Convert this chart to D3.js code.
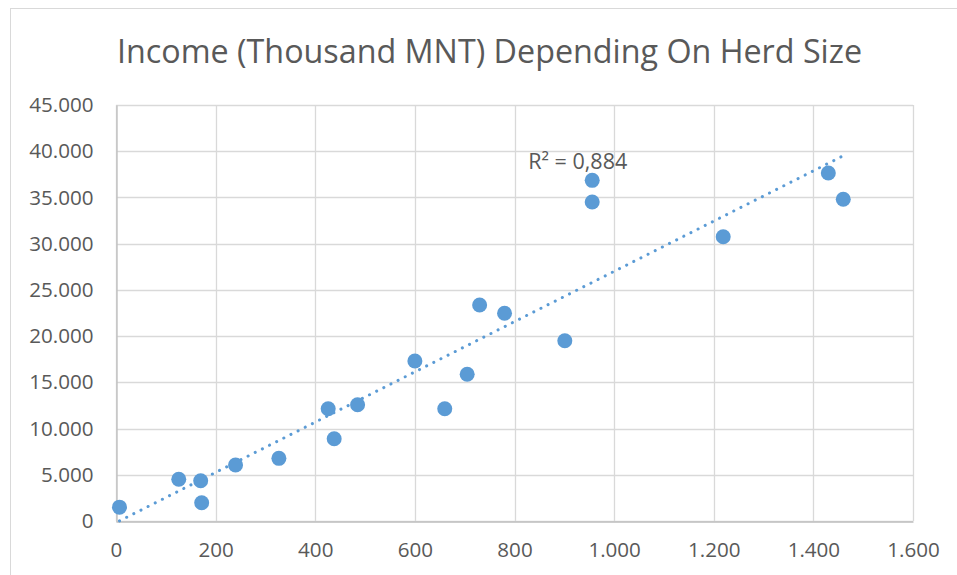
<!DOCTYPE html>
<html>
<head>
<meta charset="utf-8">
<script src="https://cdn.jsdelivr.net/npm/d3@7"></script>
<style>
  html, body { margin: 0; padding: 0; background: #fff; }
  svg { display: block; }
  text { font-family: "Open Sans", "DejaVu Sans", sans-serif; fill: #595959; }
</style>
</head>
<body>
<svg id="chart" width="957" height="575"></svg>
<script>
// ---- data ----
const titleText = "Income (Thousand MNT) Depending On Herd Size";
const herdSize = [7, 126, 170, 172, 240, 327, 426, 438, 485, 600, 660, 705, 730, 780, 901, 956, 956, 1219, 1430, 1460];
const income   = [1500, 4510, 4360, 1980, 6060, 6780, 12150, 8900, 12580, 17310, 12150, 15870, 23370, 22470, 19500, 36850, 34510, 30750, 37640, 34800];
const xTicks = [0, 200, 400, 600, 800, 1000, 1200, 1400, 1600];
const yTicks = [0, 5000, 10000, 15000, 20000, 25000, 30000, 35000, 40000, 45000];
const r2Label = "R² = 0,884";
const r2LabelPos = [927, 40000]; // anchor in data units (x, y)

// ---- layout ----
const svg = d3.select("#chart");
const W = 957, H = 575;
const plot = { left: 116, right: 913, top: 105, bottom: 521 };

const locale = d3.formatLocale({ decimal: ",", thousands: ".", grouping: [3], currency: ["", ""] });
const fmt = locale.format(",d");

const x = d3.scaleLinear().domain([0, 1600]).range([plot.left, plot.right]);
const y = d3.scaleLinear().domain([0, 45000]).range([plot.bottom, plot.top]);

// chart frame
svg.append("rect").attr("x", 10.5).attr("y", 8.5).attr("width", W).attr("height", H)
  .attr("fill", "#fff").attr("stroke", "#d9d9d9").attr("stroke-width", 1);

// title
svg.append("text")
  .attr("x", 489.5).attr("y", 63)
  .attr("text-anchor", "middle")
  .attr("font-size", 32)
  .attr("textLength", 745).attr("lengthAdjust", "spacingAndGlyphs")
  .text(titleText);

// gridlines
const grid = svg.append("g");
grid.selectAll("line.h").data(yTicks).join("line")
  .attr("x1", plot.left).attr("x2", plot.right)
  .attr("y1", d => Math.round(y(d)) + 0.5).attr("y2", d => Math.round(y(d)) + 0.5)
  .attr("stroke", "#d9d9d9").attr("stroke-width", 1.3);
grid.selectAll("line.v").data(xTicks).join("line")
  .attr("y1", plot.top).attr("y2", plot.bottom)
  .attr("x1", d => Math.round(x(d)) + 0.5).attr("x2", d => Math.round(x(d)) + 0.5)
  .attr("stroke", "#d9d9d9").attr("stroke-width", 1.3);

// axes (lines slightly darker, no tick marks)
const yAxis = d3.axisLeft(y).tickValues(yTicks).tickFormat(fmt).tickSize(0).tickPadding(23);
const gy = svg.append("g").attr("transform", `translate(${plot.left + 0.5},0)`).call(yAxis);
gy.select(".domain").attr("stroke", "#bfbfbf").attr("stroke-width", 1.3);
gy.selectAll("text").attr("font-size", 20.6).attr("fill", "#595959").attr("font-family", "Open Sans");

const xAxis = d3.axisBottom(x).tickValues(xTicks).tickFormat(fmt).tickSize(0).tickPadding(21);
const gx = svg.append("g").attr("transform", `translate(0,${plot.bottom + 0.5})`).call(xAxis);
gx.select(".domain").attr("stroke", "#bfbfbf").attr("stroke-width", 1.3);
gx.selectAll("text").attr("font-size", 20.6).attr("fill", "#595959").attr("font-family", "Open Sans");

// linear trendline (OLS)
const n = herdSize.length;
const mx = d3.mean(herdSize), my = d3.mean(income);
let sxy = 0, sxx = 0;
for (let i = 0; i < n; i++) { sxy += (herdSize[i] - mx) * (income[i] - my); sxx += (herdSize[i] - mx) ** 2; }
const slope = sxy / sxx, intercept = my - slope * mx;
const xMin = d3.min(herdSize), xMax = d3.max(herdSize);
svg.append("line")
  .attr("x1", x(xMin)).attr("y1", y(slope * xMin + intercept))
  .attr("x2", x(xMax)).attr("y2", y(slope * xMax + intercept))
  .attr("stroke", "#5b9bd5").attr("stroke-width", 3)
  .attr("stroke-linecap", "round").attr("stroke-dasharray", "0.1 7.9");

// points
svg.append("g").selectAll("circle").data(herdSize.map((d, i) => [d, income[i]])).join("circle")
  .attr("cx", d => x(d[0])).attr("cy", d => y(d[1])).attr("r", 7.5)
  .attr("fill", "#5b9bd5");

// R² label
svg.append("text")
  .attr("x", x(r2LabelPos[0])).attr("y", 169)
  .attr("text-anchor", "middle")
  .attr("font-size", 21)
  .attr("textLength", 99).attr("lengthAdjust", "spacingAndGlyphs")
  .text(r2Label);
</script>
</body>
</html>
